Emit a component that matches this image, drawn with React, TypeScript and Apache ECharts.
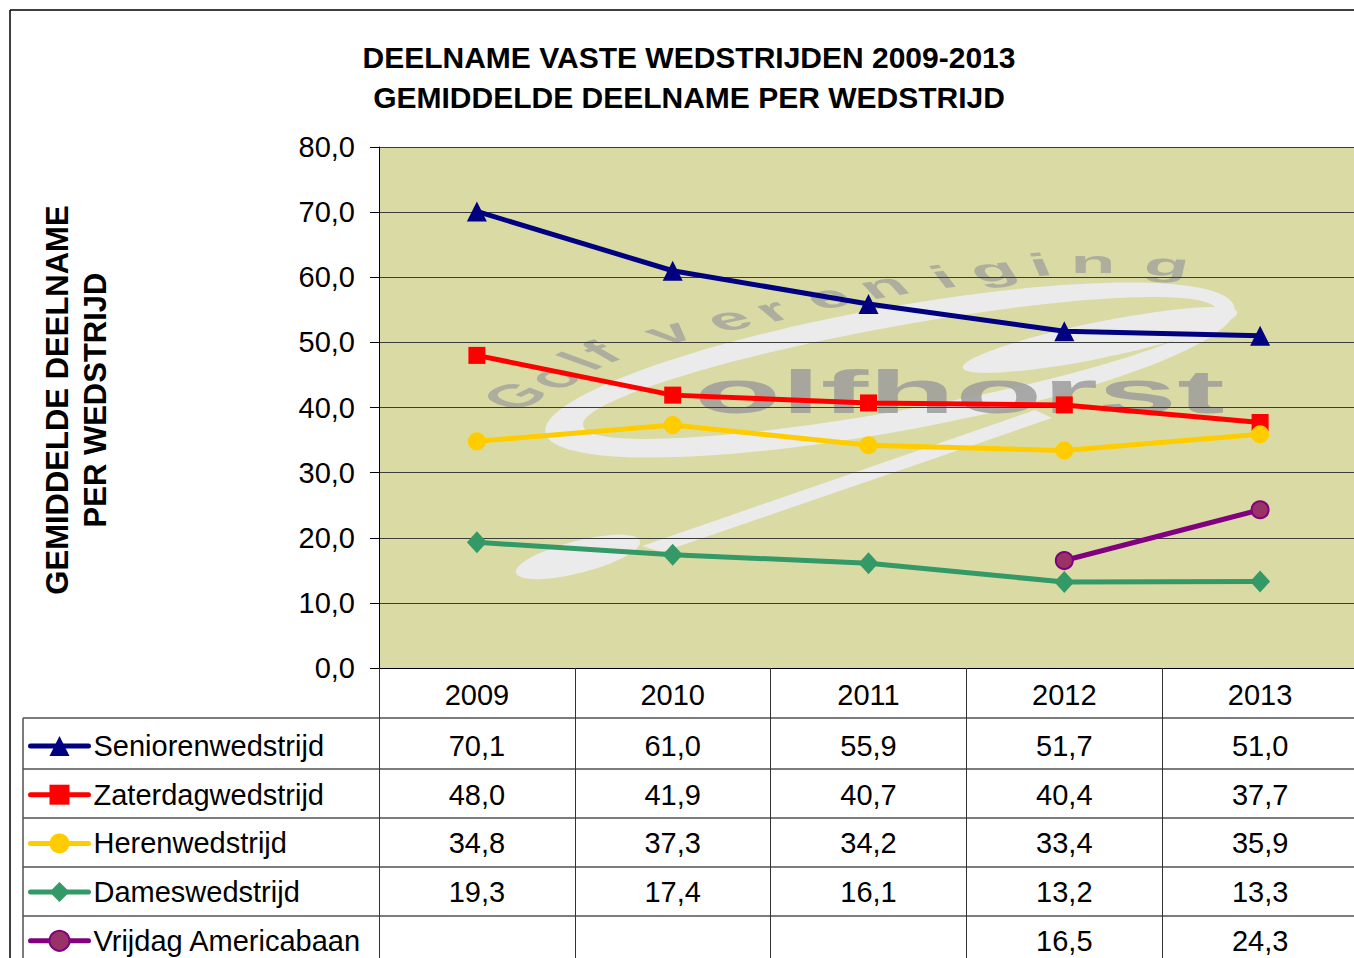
import React, { useEffect, useRef } from 'react';
import * as echarts from 'echarts';

// ---------- data ----------
const years = ['2009', '2010', '2011', '2012', '2013'];
const seriesNames = ['Seniorenwedstrijd', 'Zaterdagwedstrijd', 'Herenwedstrijd', 'Dameswedstrijd', 'Vrijdag Americabaan'];
const senioren = [70.1, 61.0, 55.9, 51.7, 51.0];
const zaterdag = [48.0, 41.9, 40.7, 40.4, 37.7];
const heren = [34.8, 37.3, 34.2, 33.4, 35.9];
const dames = [19.3, 17.4, 16.1, 13.2, 13.3];
const vrijdag: (number | null)[] = [null, null, null, 16.5, 24.3];
const allValues = [senioren, zaterdag, heren, dames, vrijdag];
const titleLines = ['DEELNAME VASTE WEDSTRIJDEN 2009-2013', 'GEMIDDELDE DEELNAME PER WEDSTRIJD'];
const yAxisTitleLines = ['GEMIDDELDE DEELNAME', 'PER WEDSTRIJD'];
const yMin = 0;
const yMax = 80;
const yStep = 10;
const watermarkWord = 'olfhorst';
const watermarkArc = 'Golfvereniging';

// ---------- styles ----------
const FONT = '"Liberation Sans", Arial, Helvetica, sans-serif';
const lineColors = ['#000080', '#FF0000', '#FFCC00', '#339966', '#800080'];
const markerColors = ['#000080', '#FF0000', '#FFCC00', '#339966', '#993366'];
const symbols = ['triangle', 'rect', 'circle', 'diamond', 'circle'];
const symbolSizes: any[] = [20, 17, 18, [20, 22], 17];
const PLOT_BG = '#dadba4';
const PAGE_W = 1354;
const PAGE_H = 958;
const CHART_W = 1362;
const GRID = { left: 379, top: 147, width: 979, height: 521 };
const ROW_LINES = [718, 769, 818, 867, 916];
const ROW_CENTER0 = 746;
const ROW_STEP = 48.7;

const fmt = (v: number | null) => (v == null ? '' : v.toFixed(1).replace('.', ','));

// watermark decoration layout (observed positions of the logo letters)
const WM_S = 2.3;
const WM_OX = 880;
const arcPts = [
  [515, 396], [553, 377], [580, 361], [601, 352], [668, 332], [728, 319], [772, 310],
  [827, 297], [883, 286], [943, 277], [993, 270], [1040, 265], [1093, 262], [1167, 265],
];

export default function App() {
  const ref = useRef<HTMLDivElement>(null);

  useEffect(() => {
    if (!ref.current) return;
    const chart = echarts.init(ref.current, null, { renderer: 'svg' });

    const series = seriesNames.map((name, i) => ({
      name,
      type: 'line',
      data: allValues[i],
      symbol: symbols[i],
      symbolSize: symbolSizes[i],
      showSymbol: true,
      connectNulls: false,
      z: 3,
      lineStyle: { color: lineColors[i], width: 5 },
      itemStyle: {
        color: markerColors[i],
        borderColor: i === 4 ? '#800080' : markerColors[i],
        borderWidth: i === 4 ? 2 : 0,
      },
    }));

    chart.setOption({
      animation: false,
      backgroundColor: '#ffffff',
      textStyle: { fontFamily: FONT },
      title: {
        text: titleLines.join('\n'),
        left: 684,
        top: 32,
        textAlign: 'center',
        textStyle: { fontFamily: FONT, fontSize: 30, fontWeight: 'bold', color: '#000', lineHeight: 40 },
      },
      grid: { left: GRID.left, top: GRID.top, width: GRID.width, height: GRID.height, containLabel: false },
      legend: {
        orient: 'vertical',
        left: 28,
        top: ROW_CENTER0 - 14.5,
        itemWidth: 58,
        itemHeight: 25,
        itemGap: ROW_STEP - 29,
        padding: 0,
        selectedMode: false,
        data: seriesNames,
        textStyle: { fontFamily: FONT, fontSize: 29, color: '#000', lineHeight: 29 },
        lineStyle: { width: 5, cap: 'round' },
      },
      xAxis: {
        type: 'category',
        data: years,
        boundaryGap: true,
        axisLine: { show: true, lineStyle: { color: '#000', width: 1 } },
        axisTick: { show: true, interval: 0, length: 290, lineStyle: { color: '#333', width: 1 } },
        axisLabel: { interval: 0, margin: 12, fontSize: 29, color: '#000', fontFamily: FONT },
        splitLine: { show: false },
      },
      yAxis: {
        type: 'value',
        min: yMin,
        max: yMax,
        interval: yStep,
        axisLine: { show: true, lineStyle: { color: '#000', width: 1 } },
        axisTick: { show: true, length: 9, lineStyle: { color: '#000' } },
        axisLabel: { margin: 24, fontSize: 29, color: '#000', fontFamily: FONT, formatter: (v: number) => fmt(v) },
        splitLine: { show: true, lineStyle: { color: '#3c3c3c', width: 1 } },
      },
      series,
    });

    const colX = years.map((y) => chart.convertToPixel({ xAxisIndex: 0 }, y) as number);

    const graphics: any[] = [];
    // plot background
    graphics.push({
      type: 'rect', z: -10, silent: true,
      shape: { x: GRID.left, y: GRID.top, width: GRID.width, height: GRID.height },
      style: { fill: PLOT_BG },
    });
    // watermark swoosh
    const white = '#ebebeb';
    graphics.push({ type: 'ellipse', z: -6, silent: true, x: 890, y: 370, rotation: 0.18, shape: { cx: 0, cy: 0, rx: 350, ry: 62 }, style: { fill: white } });
    graphics.push({ type: 'ellipse', z: -6, z2: 1, silent: true, x: 900, y: 368, rotation: 0.18, shape: { cx: 0, cy: 0, rx: 322, ry: 42 }, style: { fill: PLOT_BG } });
    graphics.push({ type: 'ellipse', z: -6, z2: 2, silent: true, x: 1100, y: 340, rotation: 0.2, shape: { cx: 0, cy: 0, rx: 140, ry: 18 }, style: { fill: white } });
    graphics.push({ type: 'polygon', z: -6, z2: 2, silent: true, shape: { points: [[1035, 410], [1052, 418], [662, 552], [642, 546]] }, style: { fill: white } });
    graphics.push({ type: 'ellipse', z: -6, z2: 2, silent: true, x: 578, y: 557, rotation: 0.25, shape: { cx: 0, cy: 0, rx: 64, ry: 16 }, style: { fill: white } });

    // watermark letters (stretched horizontally like the logo image)
    const local = arcPts.map(([x, y]) => [(x - WM_OX) / WM_S, y]);
    const children: any[] = local.map((p, i) => {
      const a = local[Math.max(0, i - 1)];
      const b = local[Math.min(local.length - 1, i + 1)];
      const rot = Math.atan2(-(b[1] - a[1]), b[0] - a[0]);
      return {
        type: 'text', z: -5, silent: true, x: p[0], y: p[1], rotation: rot,
        style: { text: watermarkArc[i], fontFamily: FONT, fontSize: 32, fontWeight: 'bold', fill: '#a2a29e', opacity: 0.8, align: 'center', verticalAlign: 'middle' },
      };
    });
    children.push({
      type: 'text', z: -5, silent: true, x: (694 - WM_OX) / WM_S, y: 391,
      style: { text: watermarkWord, fontFamily: FONT, fontSize: 62, fontWeight: 'bold', fill: '#9c9c9c', opacity: 0.85, align: 'left', verticalAlign: 'middle' },
    });
    graphics.push({ type: 'group', z: -5, silent: true, x: WM_OX, y: 0, scaleX: WM_S, children });

    // outer frame
    graphics.push({ type: 'line', silent: true, shape: { x1: 10, y1: 10, x2: CHART_W, y2: 10 }, style: { stroke: '#000', lineWidth: 1.5 } });
    graphics.push({ type: 'line', silent: true, shape: { x1: 10, y1: 10, x2: 10, y2: PAGE_H }, style: { stroke: '#000', lineWidth: 1.5 } });
    // table lines
    ROW_LINES.forEach((y) => {
      graphics.push({ type: 'line', silent: true, shape: { x1: 23, y1: y, x2: CHART_W, y2: y }, style: { stroke: '#505050', lineWidth: 1.5 } });
    });
    graphics.push({ type: 'line', silent: true, shape: { x1: 23, y1: ROW_LINES[0], x2: 23, y2: PAGE_H }, style: { stroke: '#505050', lineWidth: 1.5 } });
    // y-axis title
    graphics.push({
      type: 'text', silent: true, x: 76, y: 400, rotation: Math.PI / 2,
      style: { text: yAxisTitleLines.join('\n'), fontFamily: FONT, fontSize: 31, fontWeight: 'bold', fill: '#000', align: 'center', verticalAlign: 'middle', lineHeight: 38 },
    });
    // table values
    allValues.forEach((vals, r) => {
      vals.forEach((v, c) => {
        if (v == null) return;
        graphics.push({
          type: 'text', silent: true, x: colX[c], y: ROW_CENTER0 + ROW_STEP * r,
          style: { text: fmt(v), fontFamily: FONT, fontSize: 29, fill: '#000', align: 'center', verticalAlign: 'middle' },
        });
      });
    });

    chart.setOption({ graphic: { elements: graphics } });

    return () => chart.dispose();
  }, []);

  return (
    <div style={{ position: 'absolute', left: 0, top: 0, width: PAGE_W, height: PAGE_H, overflow: 'hidden' }}>
      <div ref={ref} style={{ width: CHART_W, height: PAGE_H }} />
    </div>
  );
}
